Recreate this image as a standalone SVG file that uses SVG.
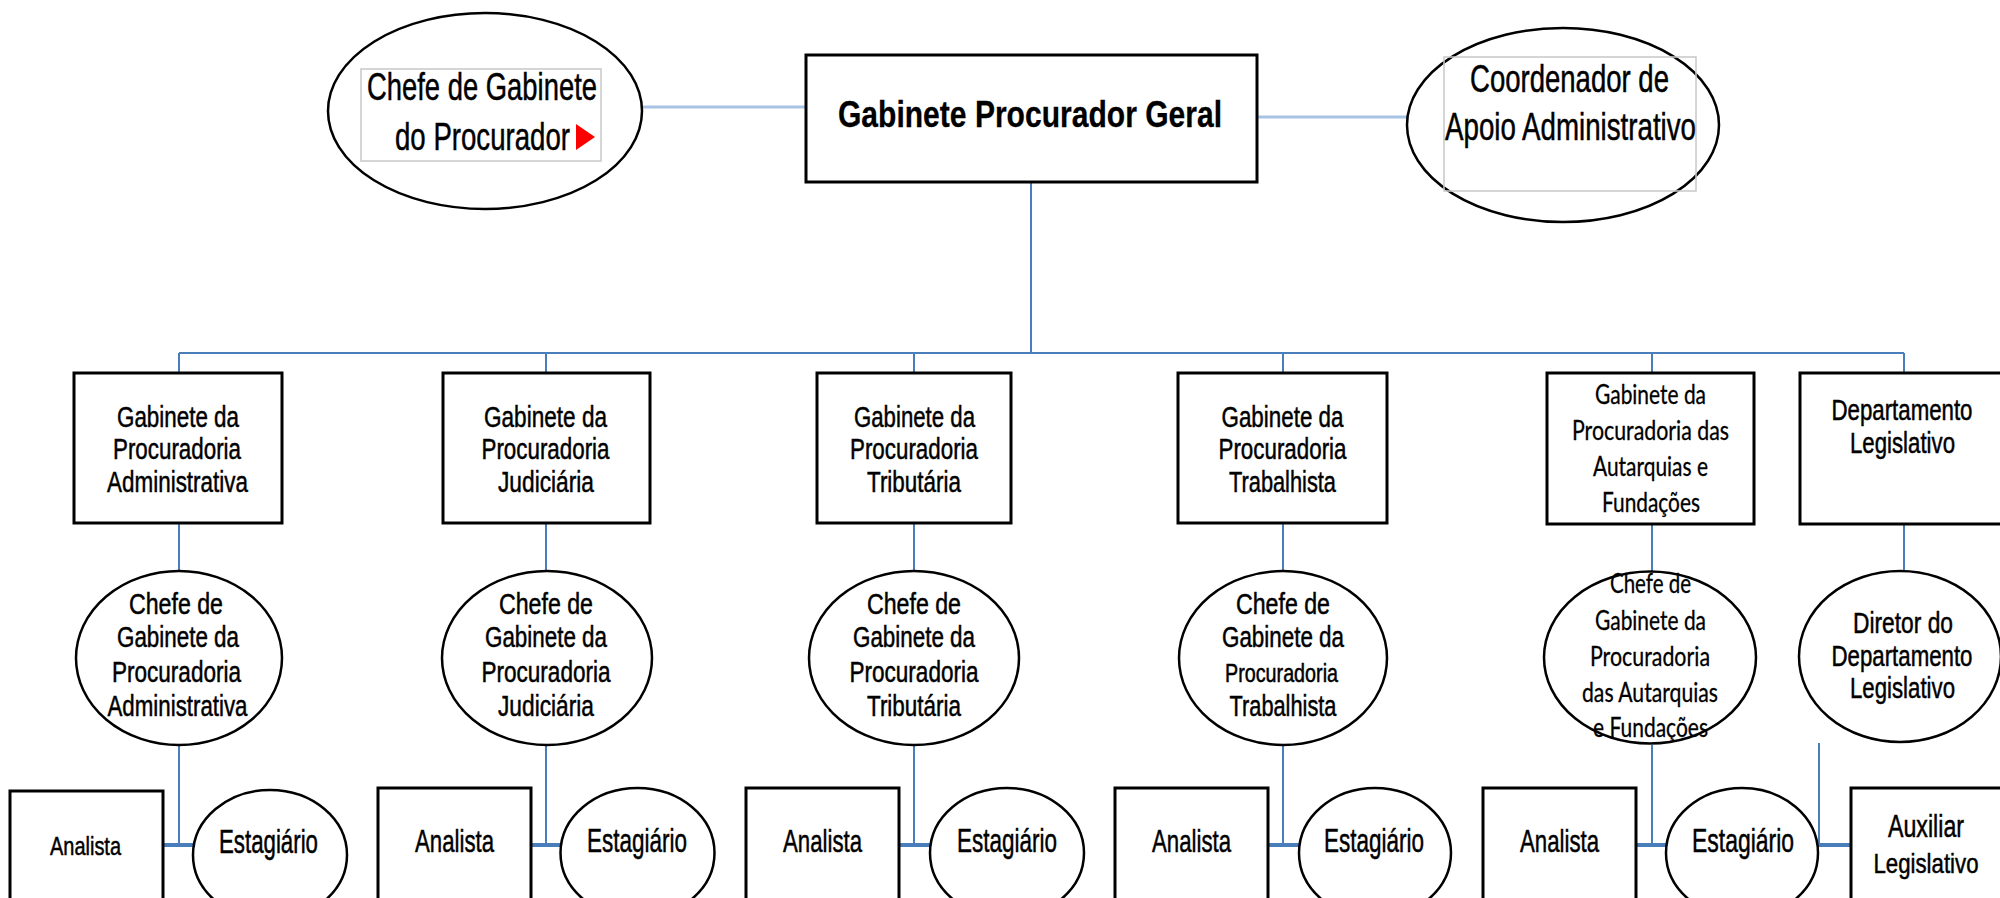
<svg xmlns="http://www.w3.org/2000/svg" width="2000" height="898" viewBox="0 0 2000 898">
<style>
.bg{fill:#ffffff}
.box{fill:#ffffff;stroke:#000000;stroke-width:3}
.ell{fill:#ffffff;stroke:#000000;stroke-width:2.5}
.gray{fill:none;stroke:#c8c8c8;stroke-width:1.5}
.t{font-family:"Liberation Sans Narrow","Liberation Sans",Arial,sans-serif;fill:#000000;stroke:#000000;stroke-width:0.5;text-anchor:middle}
.b{font-weight:bold;stroke-width:0.3}
.c{font-family:Lato,"Open Sans",sans-serif;fill:#000000;stroke:#000000;stroke-width:0.3;text-anchor:middle}
.ln{stroke:#4a7ebb;stroke-width:2;fill:none}
.lt{stroke:#a7c3e5;stroke-width:3;fill:none}
.dbl{stroke:#4a7ebb;stroke-width:4;fill:none}
</style>
<rect class="bg" x="0" y="0" width="2000" height="898"/>

<g id="connectors">
  <line class="lt" x1="641" y1="107" x2="806" y2="107"/>
  <line class="lt" x1="1257" y1="117" x2="1407" y2="117"/>
  <line class="ln" x1="1031" y1="182" x2="1031" y2="353"/>
  <line class="ln" x1="179" y1="353" x2="1904" y2="353"/>
  <line class="ln" x1="179" y1="353" x2="179" y2="373"/>
  <line class="ln" x1="546" y1="353" x2="546" y2="373"/>
  <line class="ln" x1="914" y1="353" x2="914" y2="373"/>
  <line class="ln" x1="1283" y1="353" x2="1283" y2="373"/>
  <line class="ln" x1="1652" y1="353" x2="1652" y2="373"/>
  <line class="ln" x1="1904" y1="353" x2="1904" y2="373"/>
  <line class="ln" x1="179" y1="523" x2="179" y2="571"/>
  <line class="ln" x1="546" y1="523" x2="546" y2="571"/>
  <line class="ln" x1="914" y1="523" x2="914" y2="571"/>
  <line class="ln" x1="1283" y1="523" x2="1283" y2="571"/>
  <line class="ln" x1="1652" y1="523" x2="1652" y2="571"/>
  <line class="ln" x1="1904" y1="523" x2="1904" y2="571"/>
  <line class="ln" x1="179" y1="745" x2="179" y2="845"/>
  <line class="ln" x1="546" y1="745" x2="546" y2="845"/>
  <line class="ln" x1="914" y1="745" x2="914" y2="845"/>
  <line class="ln" x1="1283" y1="745" x2="1283" y2="845"/>
  <line class="ln" x1="1652" y1="745" x2="1652" y2="845"/>
  <line class="ln" x1="1819" y1="743" x2="1819" y2="845"/>
  <line class="dbl" x1="163" y1="845" x2="194" y2="845"/>
  <line class="dbl" x1="531" y1="845" x2="561" y2="845"/>
  <line class="dbl" x1="899" y1="845" x2="931" y2="845"/>
  <line class="dbl" x1="1268" y1="845" x2="1300" y2="845"/>
  <line class="dbl" x1="1636" y1="845" x2="1666" y2="845"/>
  <line class="dbl" x1="1818" y1="845" x2="1851" y2="845"/>
</g>

<g id="chefe-gabinete-procurador">
  <ellipse class="ell" cx="485" cy="111" rx="157" ry="98"/>
  <rect class="gray" x="361" y="69" width="240" height="92"/>
  <text class="t" x="482" y="100" font-size="39" textLength="230" lengthAdjust="spacingAndGlyphs">Chefe de Gabinete</text>
  <text class="t" x="482.5" y="150" font-size="39" textLength="175" lengthAdjust="spacingAndGlyphs">do Procurador</text>
  <polygon points="576,124 595,137 576,150" fill="#ff0000"/>
</g>

<g id="gabinete-procurador-geral">
  <rect class="box" x="806" y="55" width="451" height="127"/>
  <text class="t b" x="1030" y="127" font-size="37" textLength="384" lengthAdjust="spacingAndGlyphs">Gabinete Procurador Geral</text>
</g>

<g id="coordenador-apoio">
  <ellipse class="ell" cx="1563" cy="125" rx="156" ry="97"/>
  <rect class="gray" x="1444" y="57" width="252" height="134"/>
  <text class="t" x="1569.5" y="92" font-size="38" textLength="199" lengthAdjust="spacingAndGlyphs">Coordenador de</text>
  <text class="t" x="1570.5" y="140" font-size="38" textLength="251" lengthAdjust="spacingAndGlyphs">Apoio Administrativo</text>
</g>

<g id="gp-administrativa">
  <rect class="box" x="74" y="373" width="208" height="150"/>
  <text class="t" x="178" y="427" font-size="30" textLength="122" lengthAdjust="spacingAndGlyphs">Gabinete da</text>
  <text class="t" x="177" y="459" font-size="30" textLength="128" lengthAdjust="spacingAndGlyphs">Procuradoria</text>
  <text class="t" x="177.5" y="492" font-size="30" textLength="141" lengthAdjust="spacingAndGlyphs">Administrativa</text>
</g>
<g id="gp-judiciaria">
  <rect class="box" x="443" y="373" width="207" height="150"/>
  <text class="t" x="545.5" y="427" font-size="30" textLength="123" lengthAdjust="spacingAndGlyphs">Gabinete da</text>
  <text class="t" x="545.5" y="459" font-size="30" textLength="128" lengthAdjust="spacingAndGlyphs">Procuradoria</text>
  <text class="t" x="546" y="492" font-size="30" textLength="96" lengthAdjust="spacingAndGlyphs">Judiciária</text>
</g>
<g id="gp-tributaria">
  <rect class="box" x="817" y="373" width="194" height="150"/>
  <text class="t" x="914.5" y="427" font-size="30" textLength="121" lengthAdjust="spacingAndGlyphs">Gabinete da</text>
  <text class="t" x="914" y="459" font-size="30" textLength="128" lengthAdjust="spacingAndGlyphs">Procuradoria</text>
  <text class="t" x="914" y="492" font-size="30" textLength="94" lengthAdjust="spacingAndGlyphs">Tributária</text>
</g>
<g id="gp-trabalhista">
  <rect class="box" x="1178" y="373" width="209" height="150"/>
  <text class="t" x="1282.5" y="427" font-size="30" textLength="122" lengthAdjust="spacingAndGlyphs">Gabinete da</text>
  <text class="t" x="1282.5" y="459" font-size="30" textLength="128" lengthAdjust="spacingAndGlyphs">Procuradoria</text>
  <text class="t" x="1282.5" y="492" font-size="30" textLength="107" lengthAdjust="spacingAndGlyphs">Trabalhista</text>
</g>
<g id="gp-autarquias">
  <rect class="box" x="1547" y="373" width="207" height="151"/>
  <text class="c" x="1650.5" y="404" font-size="26" textLength="111" lengthAdjust="spacingAndGlyphs">Gabinete da</text>
  <text class="c" x="1650.5" y="440" font-size="26" textLength="157" lengthAdjust="spacingAndGlyphs">Procuradoria das</text>
  <text class="c" x="1650.5" y="476" font-size="26" textLength="115" lengthAdjust="spacingAndGlyphs">Autarquias e</text>
  <text class="c" x="1651" y="512" font-size="26" textLength="98" lengthAdjust="spacingAndGlyphs">Fundações</text>
</g>
<g id="departamento-legislativo">
  <rect class="box" x="1800" y="373" width="210" height="151"/>
  <text class="t" x="1902" y="420" font-size="29" textLength="141" lengthAdjust="spacingAndGlyphs">Departamento</text>
  <text class="t" x="1902.5" y="453" font-size="30" textLength="105" lengthAdjust="spacingAndGlyphs">Legislativo</text>
</g>

<g id="chefe-administrativa">
  <ellipse class="ell" cx="179" cy="658" rx="103" ry="87"/>
  <text class="t" x="176" y="614" font-size="29" textLength="94" lengthAdjust="spacingAndGlyphs">Chefe de</text>
  <text class="t" x="178" y="647" font-size="29" textLength="122" lengthAdjust="spacingAndGlyphs">Gabinete da</text>
  <text class="t" x="176.5" y="682" font-size="29" textLength="129" lengthAdjust="spacingAndGlyphs">Procuradoria</text>
  <text class="t" x="177.5" y="716" font-size="29" textLength="140" lengthAdjust="spacingAndGlyphs">Administrativa</text>
</g>
<g id="chefe-judiciaria">
  <ellipse class="ell" cx="547" cy="658" rx="105" ry="87"/>
  <text class="t" x="546" y="614" font-size="29" textLength="94" lengthAdjust="spacingAndGlyphs">Chefe de</text>
  <text class="t" x="546" y="647" font-size="29" textLength="122" lengthAdjust="spacingAndGlyphs">Gabinete da</text>
  <text class="t" x="546" y="682" font-size="29" textLength="129" lengthAdjust="spacingAndGlyphs">Procuradoria</text>
  <text class="t" x="546" y="716" font-size="29" textLength="96" lengthAdjust="spacingAndGlyphs">Judiciária</text>
</g>
<g id="chefe-tributaria">
  <ellipse class="ell" cx="914" cy="658" rx="105" ry="87"/>
  <text class="t" x="914" y="614" font-size="29" textLength="94" lengthAdjust="spacingAndGlyphs">Chefe de</text>
  <text class="t" x="914" y="647" font-size="29" textLength="122" lengthAdjust="spacingAndGlyphs">Gabinete da</text>
  <text class="t" x="914" y="682" font-size="29" textLength="129" lengthAdjust="spacingAndGlyphs">Procuradoria</text>
  <text class="t" x="914" y="716" font-size="29" textLength="94" lengthAdjust="spacingAndGlyphs">Tributária</text>
</g>
<g id="chefe-trabalhista">
  <ellipse class="ell" cx="1283" cy="658" rx="104" ry="87"/>
  <text class="t" x="1283" y="614" font-size="29" textLength="94" lengthAdjust="spacingAndGlyphs">Chefe de</text>
  <text class="t" x="1283" y="647" font-size="29" textLength="122" lengthAdjust="spacingAndGlyphs">Gabinete da</text>
  <text class="t" x="1281.5" y="682" font-size="25" textLength="113" lengthAdjust="spacingAndGlyphs">Procuradoria</text>
  <text class="t" x="1283" y="716" font-size="29" textLength="107" lengthAdjust="spacingAndGlyphs">Trabalhista</text>
</g>
<g id="chefe-autarquias">
  <ellipse class="ell" cx="1650" cy="657.5" rx="106" ry="86"/>
  <text class="c" x="1650.5" y="593" font-size="26" textLength="81" lengthAdjust="spacingAndGlyphs">Chefe de</text>
  <text class="c" x="1650.5" y="630" font-size="26" textLength="111" lengthAdjust="spacingAndGlyphs">Gabinete da</text>
  <text class="c" x="1650" y="666" font-size="26" textLength="120" lengthAdjust="spacingAndGlyphs">Procuradoria</text>
  <text class="c" x="1650" y="702" font-size="26" textLength="136" lengthAdjust="spacingAndGlyphs">das Autarquias</text>
  <text class="c" x="1650.5" y="737" font-size="26" textLength="115" lengthAdjust="spacingAndGlyphs">e Fundações</text>
</g>
<g id="diretor-departamento">
  <ellipse class="ell" cx="1900" cy="656.5" rx="101" ry="85.5"/>
  <text class="t" x="1903" y="633" font-size="30" textLength="100" lengthAdjust="spacingAndGlyphs">Diretor do</text>
  <text class="t" x="1902" y="666" font-size="29" textLength="141" lengthAdjust="spacingAndGlyphs">Departamento</text>
  <text class="t" x="1902.5" y="698" font-size="30" textLength="105" lengthAdjust="spacingAndGlyphs">Legislativo</text>
</g>

<g id="analista-1">
  <rect class="box" x="10" y="791" width="153" height="120"/>
  <text class="t" x="85.5" y="855" font-size="26" textLength="71" lengthAdjust="spacingAndGlyphs">Analista</text>
</g>
<g id="estagiario-1">
  <ellipse class="ell" cx="270" cy="855" rx="77" ry="65"/>
  <text class="t" x="268.5" y="853" font-size="33" textLength="99" lengthAdjust="spacingAndGlyphs">Estagiário</text>
</g>
<g id="analista-2">
  <rect class="box" x="378" y="788" width="153" height="120"/>
  <text class="t" x="454.5" y="852" font-size="32" textLength="79" lengthAdjust="spacingAndGlyphs">Analista</text>
</g>
<g id="estagiario-2">
  <ellipse class="ell" cx="637.5" cy="853" rx="77" ry="65"/>
  <text class="t" x="637" y="852" font-size="33" textLength="100" lengthAdjust="spacingAndGlyphs">Estagiário</text>
</g>
<g id="analista-3">
  <rect class="box" x="746" y="788" width="153" height="120"/>
  <text class="t" x="822.5" y="852" font-size="32" textLength="79" lengthAdjust="spacingAndGlyphs">Analista</text>
</g>
<g id="estagiario-3">
  <ellipse class="ell" cx="1007" cy="853" rx="77" ry="65"/>
  <text class="t" x="1007" y="852" font-size="33" textLength="100" lengthAdjust="spacingAndGlyphs">Estagiário</text>
</g>
<g id="analista-4">
  <rect class="box" x="1115" y="788" width="153" height="120"/>
  <text class="t" x="1191.5" y="852" font-size="32" textLength="79" lengthAdjust="spacingAndGlyphs">Analista</text>
</g>
<g id="estagiario-4">
  <ellipse class="ell" cx="1375" cy="853" rx="76" ry="65"/>
  <text class="t" x="1374" y="852" font-size="33" textLength="100" lengthAdjust="spacingAndGlyphs">Estagiário</text>
</g>
<g id="analista-5">
  <rect class="box" x="1483" y="788" width="153" height="120"/>
  <text class="t" x="1559.5" y="852" font-size="32" textLength="79" lengthAdjust="spacingAndGlyphs">Analista</text>
</g>
<g id="estagiario-5">
  <ellipse class="ell" cx="1742" cy="853" rx="76" ry="65"/>
  <text class="t" x="1743" y="852" font-size="33" textLength="102" lengthAdjust="spacingAndGlyphs">Estagiário</text>
</g>
<g id="auxiliar-legislativo">
  <rect class="box" x="1851" y="788" width="160" height="120"/>
  <text class="t" x="1926" y="837" font-size="31" textLength="76" lengthAdjust="spacingAndGlyphs">Auxiliar</text>
  <text class="t" x="1926" y="873" font-size="28" textLength="105" lengthAdjust="spacingAndGlyphs">Legislativo</text>
</g>
</svg>
